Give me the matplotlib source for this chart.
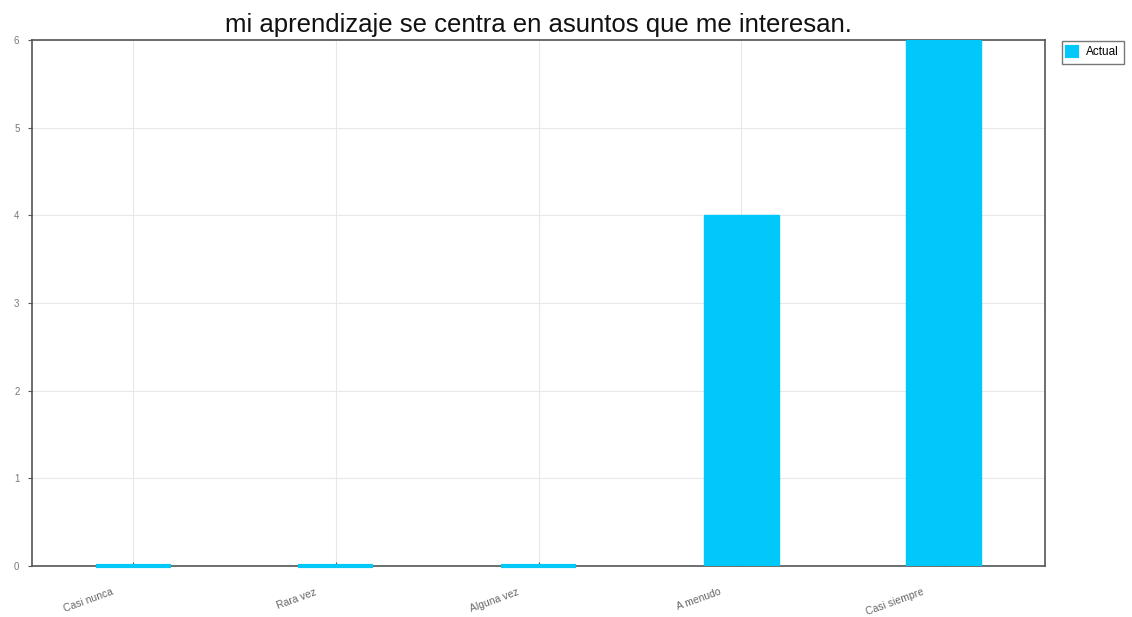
import matplotlib
matplotlib.use("Agg")
import matplotlib.pyplot as plt
import matplotlib.transforms as mtransforms
import numpy as np

categories = ["Casi nunca", "Rara vez", "Alguna vez", "A menudo", "Casi siempre"]
values = [0, 0, 0, 4, 6]
series_name = "Actual"
title = "mi aprendizaje se centra en asuntos que me interesan."
yticks = [0, 1, 2, 3, 4, 5, 6]

plt.rcParams["font.family"] = ["Liberation Sans", "DejaVu Sans"]
color = "#00C8F8"
fig = plt.figure(figsize=(11.32, 6.17), dpi=100)
ax = fig.add_axes([32/1132, 1-566/617, (1045-32)/1132, (566-40)/617])

x = np.arange(len(categories))
bars = ax.bar(x, values, width=0.37, color=color, edgecolor=color, linewidth=1.0,
              label=series_name, zorder=3)
# zero-valued bars are shown as a thin line along the baseline
for b, v in zip(bars, values):
    if v == 0:
        b.set_linewidth(3)
        b.set_clip_on(False)
        b.set_zorder(4)
ax.set_xlim(-0.5, len(categories)-0.5)
ax.set_ylim(0, 6)
ax.set_yticks(yticks)
ax.set_yticklabels([str(t) for t in yticks], fontsize=7, color="#777777")
ax.set_xticks(x)
ax.set_xticklabels(categories, rotation=20, fontsize=7.5, color="#666666",
                   ha="right", rotation_mode="anchor")
ax.tick_params(axis="both", length=3, width=0.8, color="#555555", pad=6)
ax.tick_params(axis="x", direction="in", pad=15)
offset = mtransforms.ScaledTranslation(-22/100, 0, fig.dpi_scale_trans)
for lbl in ax.get_xticklabels():
    lbl.set_transform(lbl.get_transform() + offset)
ax.grid(True, color="#e8e8e8", linewidth=0.8, zorder=0)
for s in ax.spines.values():
    s.set_color("#555555")
    s.set_linewidth(1.2)
fig.text(538/1132, 1-25/617, title, ha="center", va="center", fontsize=18.5, color="#111111")
leg = fig.legend(loc="upper left", bbox_to_anchor=(1056/1132, 1-35/617),
                 fontsize=8.5, frameon=True, fancybox=False, edgecolor="#555555",
                 handlelength=0.8, handleheight=0.8, borderpad=0.45, handletextpad=0.8)
leg.get_frame().set_linewidth(1.0)
fig.savefig("out.png", dpi=100)
